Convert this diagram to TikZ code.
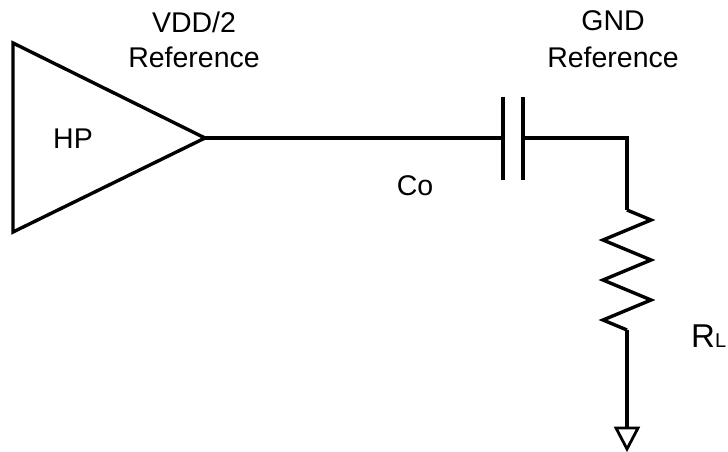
\documentclass[tikz,border=0pt]{standalone}
\usepackage{fontspec}
\setmainfont{Liberation Sans}
\begin{document}
\begin{tikzpicture}[x=1pt,y=-1pt,
  wire/.style={line width=3.4pt,line join=miter,line cap=butt},
  lbl/.style={inner sep=0pt,font=\fontsize{28.5}{35}\selectfont,anchor=base}]
\useasboundingbox (0,0) rectangle (728,451);
% amplifier
\coordinate (ampTL) at (13,43);
\coordinate (ampBL) at (13,232);
\coordinate (ampout) at (205,138);
\draw[wire] (ampTL) -- (ampout) -- (ampBL) -- cycle;
\node[lbl] (hp) at (73,148) {HP};
% capacitor
\coordinate (capL) at (503,138);
\coordinate (capR) at (523,138);
\draw[wire] (503,97) -- (503,180);
\draw[wire] (523,97) -- (523,180);
\draw[wire] (ampout) -- (capL);
\coordinate (corner) at (627,138);
\coordinate (resT) at (627,210);
\draw[wire] (capR) -- (corner) -- (resT);
% resistor
\coordinate (resB) at (627,330);
\draw[wire] (resT) -- (651,220) -- (603,240) -- (651,260) -- (603,280) -- (651,300) -- (603,320) -- (resB);
% ground
\coordinate (gnd) at (627,427);
\draw[wire] (resB) -- (gnd);
\draw[line width=2.8pt,line join=miter] (616,428) -- (638,428) -- (627,449) -- cycle;
% labels
\node[lbl] (vdd) at (194,32) {VDD/2};
\node[lbl] (vddref) at (194,67) {Reference};
\node[lbl] (gndl) at (613,30) {GND};
\node[lbl] (gndref) at (613,67) {Reference};
\node[lbl] (co) at (415,195) {Co};
\node[inner sep=0pt,anchor=base west] (rl) at (691,347) {\fontsize{33}{35}\selectfont R\fontsize{20}{22}\selectfont L};
\end{tikzpicture}
\end{document}
